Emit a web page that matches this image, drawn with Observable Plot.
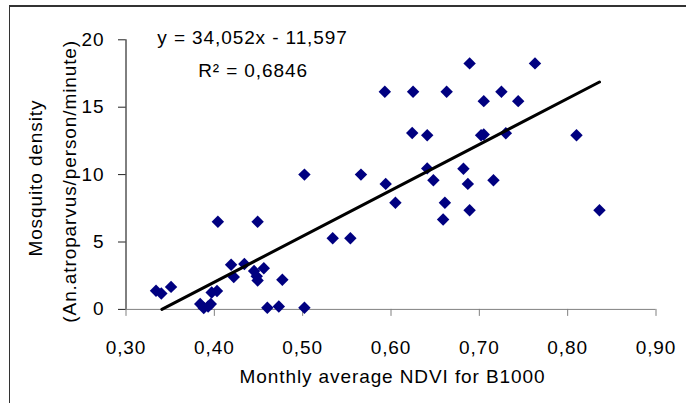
<!DOCTYPE html>
<html><head><meta charset="utf-8">
<script src="https://cdn.jsdelivr.net/npm/d3@7"></script>
<script src="https://cdn.jsdelivr.net/npm/@observablehq/plot@0.6"></script>
<style>
body{margin:0;background:#fff;}
#wrap{position:relative;width:686px;height:403px;overflow:hidden;background:#fff;}
#wrap svg{position:absolute;left:0;top:0;}
#frame{position:absolute;left:9px;top:5px;width:800px;height:500px;border-top:2px solid #333;border-left:1px solid #333;pointer-events:none;}
</style></head><body><div id="wrap"><div id="frame"></div></div>
<script>
// NDVI (x) and mosquito density (y)
const ndvi = [0.334,0.340,0.351,0.384,0.388,0.393,0.396,0.397,0.403,0.404,
  0.419,0.422,0.434,0.445,0.448,0.449,0.449,0.456,0.460,0.473,
  0.477,0.502,0.502,0.534,0.554,0.566,0.593,0.594,0.605,0.624,
  0.625,0.641,0.641,0.648,0.659,0.661,0.663,0.682,0.687,0.689,
  0.689,0.702,0.705,0.705,0.716,0.725,0.730,0.744,0.763,0.810,0.836];
const density = [1.38,1.18,1.67,0.40,0.10,0.22,0.40,1.26,1.36,6.50,
  3.31,2.40,3.37,2.85,2.45,2.15,6.50,3.05,0.12,0.22,
  2.20,0.12,10.0,5.28,5.28,10.0,16.14,9.31,7.91,13.08,
  16.14,12.92,10.46,9.58,6.67,7.91,16.14,10.43,9.31,18.25,
  7.36,12.92,12.98,15.45,9.58,16.14,13.07,15.45,18.25,12.92,7.36];
const xTicks = [0.30,0.40,0.50,0.60,0.70,0.80,0.90];
const yTicks = [0,5,10,15,20];
const slope = 34.052, intercept = -11.597;
const trendX = [0.3406, 0.836];
const eqText = "y = 34,052x - 11,597";
const r2Text = "R\u00b2 = 0,6846";
const xTitle = "Monthly average NDVI for B1000";
const yTitle1 = "Mosquito density";
const yTitle2 = "(An.atroparvus/person/minute)";

const fmt = d => d.toFixed(2).replace(".", ",");
const pts = ndvi.map((x, i) => ({x, y: density[i]}));
const trend = trendX.map(x => ({x, y: slope * x + intercept}));
const FS = 19;

const chart = Plot.plot({
  width: 686, height: 403,
  marginLeft: 125.5, marginRight: 30.5, marginTop: 39.3, marginBottom: 94.1,
  style: {fontFamily: "'Liberation Sans', Arial, sans-serif", fontSize: FS + "px", color: "#000", background: "#fff", letterSpacing: "0.9px", overflow: "visible"},
  x: {domain: [0.3, 0.9]},
  y: {domain: [0, 20]},
  marks: [
    Plot.axisX({ticks: xTicks, tickFormat: fmt, tickSize: 7, tickPadding: 24, label: null, stroke: "#808080", fill: "#000", fontSize: FS}),
    Plot.ruleY([0], {stroke: "#808080", strokeWidth: 1}),
    Plot.axisY({ticks: yTicks, tickSize: 7.5, tickPadding: 14, label: null, stroke: "#222", fill: "#000", fontSize: FS}),
    Plot.ruleX([0.3], {stroke: "#000", strokeWidth: 1}),
    Plot.dot(pts, {x: "x", y: "y", symbol: "diamond2", r: 5.6, fill: "#000080", stroke: "none"}),
    Plot.line(trend, {x: "x", y: "y", stroke: "#000", strokeWidth: 3}),
    Plot.text([eqText], {frameAnchor: "top", textAnchor: "middle", lineAnchor: "bottom", dx: -138.5, dy: 3.7, fontSize: FS, fill: "#000"}),
    Plot.text([r2Text], {frameAnchor: "top", textAnchor: "middle", lineAnchor: "bottom", dx: -138, dy: 36.7, fontSize: FS, fill: "#000"}),
    Plot.text([xTitle], {frameAnchor: "bottom", textAnchor: "middle", lineAnchor: "bottom", dx: 1.5, dy: 74, fontSize: FS, fill: "#000"}),
    Plot.text([yTitle1], {frameAnchor: "left", textAnchor: "middle", lineAnchor: "bottom", rotate: -90, dx: -84.5, dy: 3.5, fontSize: FS, fill: "#000"}),
    Plot.text([yTitle2], {frameAnchor: "left", textAnchor: "middle", lineAnchor: "bottom", rotate: -90, dx: -50.5, dy: 6.7, fontSize: FS, fill: "#000"})
  ]
});
const wrap = document.getElementById("wrap");
wrap.insertBefore(chart, wrap.firstChild);
</script>
</body></html>
